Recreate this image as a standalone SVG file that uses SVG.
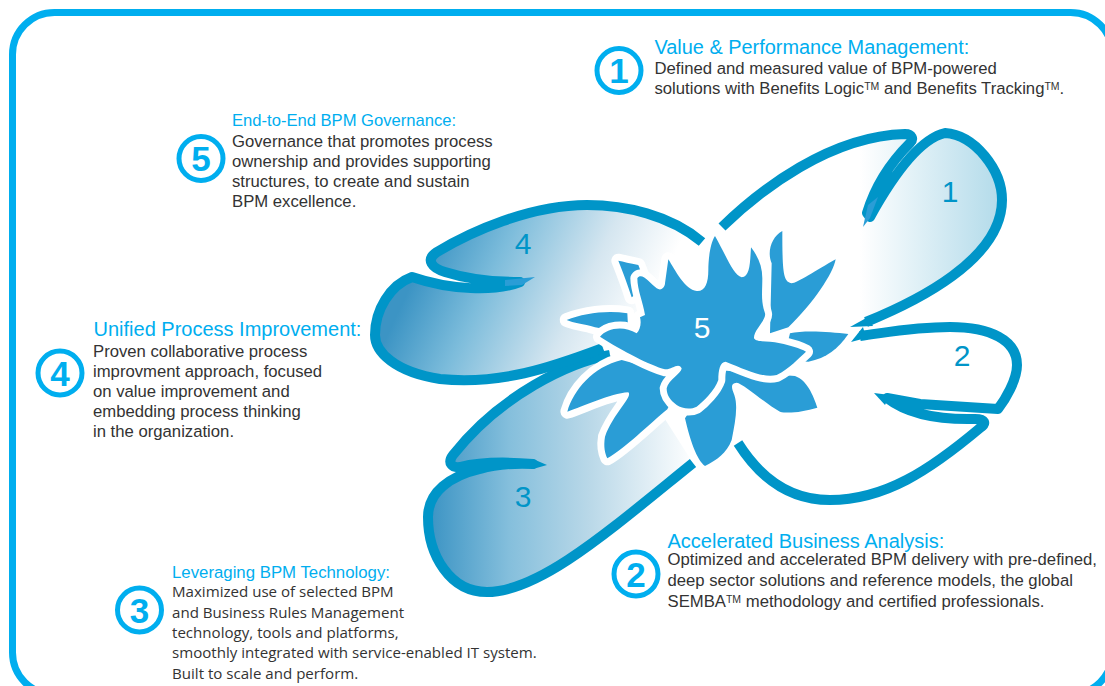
<svg xmlns="http://www.w3.org/2000/svg" width="1105" height="686" viewBox="0 0 1105 686">
<style>
.ln{fill:none;stroke:#0095c8;stroke-width:10;stroke-linejoin:round;stroke-linecap:butt}
.tip{fill:#0095c8}
.tip2{fill:#2a9dd6}
.pn{font:30px "Liberation Sans",Arial,sans-serif;fill:#0095c8;text-anchor:middle}
.h{font-family:"Liberation Sans",Arial,sans-serif;fill:#00aeef}
.b{font-family:"Liberation Sans",Arial,sans-serif;font-size:16.700px;fill:#333}
.o{font-family:"Open Sans",sans-serif;font-size:15.100px;fill:#333}
.c{fill:#fff;stroke:#00aeef;stroke-width:5}
.d{font:bold 35px "Liberation Sans",Arial,sans-serif;fill:#00aeef;text-anchor:middle}
.f{fill:#2a9dd6}
.w{fill:#2a9dd6;stroke:#fff;stroke-width:42;paint-order:stroke;stroke-linejoin:round}
.tm{font-size:10.500px}
</style>
<defs>
<linearGradient id="g1" gradientUnits="userSpaceOnUse" x1="860" y1="0" x2="1000" y2="0"><stop offset="0" stop-color="#fff"/><stop offset="1" stop-color="#b3dbea"/></linearGradient>
<linearGradient id="g3" gradientUnits="userSpaceOnUse" x1="430" y1="0" x2="695" y2="0"><stop offset="0" stop-color="#3c94c4"/><stop offset=".3" stop-color="#85bfdc"/><stop offset=".6" stop-color="#b9d8e8"/><stop offset="1" stop-color="#fff"/></linearGradient>
<linearGradient id="g4" gradientUnits="userSpaceOnUse" x1="385" y1="340" x2="590" y2="436"><stop offset="0" stop-color="#3c94c4"/><stop offset=".3" stop-color="#7cbcdb"/><stop offset=".7" stop-color="#d5e6f0"/><stop offset="1" stop-color="#fff"/></linearGradient>
</defs>
<rect id="frame" x="12.500" y="12.500" width="1100" height="682" rx="42" fill="#fff" stroke="#00aeef" stroke-width="7"/>
<g id="connectors"></g>
<g id="petal-3">
<path fill="url(#g3)" d="M610,355C570,362 500,395 453,455C447,463 452,468 460,467C480,462 510,462 533,464C510,463 490,466 480,469C450,476 428,492 428,517C428,555 450,592 487,592C540,592 610,530 693,463L640,380Z"/>
<path class="ln" d="M610,355C570,362 500,395 453,455C447,463 452,468 460,467C480,462 510,462 533,464C510,463 490,466 480,469C450,476 428,492 428,517C428,555 450,592 487,592C540,592 610,530 693,463"/>
<path class="tip" d="M533,459L547,465L533,469Z"/>
<text class="pn" x="523" y="507">3</text>
</g>
<g id="petal-4">
<path fill="url(#g4)" d="M702,242C670,215 625,205 587,205C530,205 470,232 437,252C425,260 432,268 445,272C470,280 495,282 520,282C495,292 450,290 412,277C390,285 375,310 375,335C375,352 395,372 440,379C500,385 550,368 603,348L660,300Z"/>
<path class="ln" d="M702,242C670,215 625,205 587,205C530,205 470,232 437,252C425,260 432,268 445,272C470,280 495,282 520,282C495,292 450,290 412,277C390,285 375,310 375,335C375,352 395,372 440,379C500,385 550,368 603,348"/>
<path class="tip2" d="M505,280L535,277L522,285L505,286Z"/>
<text class="pn" x="523" y="254">4</text>
</g>
<g id="petal-1">
<path fill="url(#g1)" d="M722,227C760,190 830,136 905,134C912,134 914,139 910,143C893,160 876,183 867,213L870,217C885,190 915,140 945,133C975,135 1002,170 1002,200C1002,260 905,310 852,328L790,280Z"/>
<path class="ln" d="M722,227C760,190 830,136 905,134C912,134 914,139 910,143C893,160 876,183 867,213L870,217C885,190 915,140 945,133C975,135 1002,170 1002,200C1002,260 915,302 866,322"/>
<path class="tip" d="M850,327L868,317L873,326Z"/>
<path class="tip2" d="M863,227L868,205L878,197L870,218Z"/>
<text class="pn" x="950" y="202">1</text>
</g>
<g id="petal-2">
<path class="ln" d="M860,336C890,332 915,327 950,327C990,327 1017,340 1017,365C1017,380 1005,400 998,409L920,404L887,398C905,412 935,420 975,419C985,419 987,423 980,428C930,470 885,500 830,500C790,500 760,478 738,443"/>
<path class="tip" d="M874,393L890,395L885,405Z"/>
<path class="tip" d="M851,342L863,327L866,338Z"/>
<text class="pn" x="962" y="366">2</text>
</g>
<g id="petal-5">
<g transform="translate(550,220) scale(.33333)">
<path class="f" d="M697,33C665,50 650,95 665,130L660,340L715,322C790,250 850,160 857,118C800,150 740,190 725,190C700,185 697,160 697,33Z"/>
<path class="f" d="M895,342C840,335 760,330 720,340L700,420L775,425C830,415 865,385 895,342Z"/>
<path class="f" d="M735,468C770,480 790,525 802,563C760,575 715,582 690,575C650,555 580,490 560,488C540,490 545,505 553,525C565,560 555,610 545,660C530,700 500,720 465,738C440,720 420,660 405,595L500,450Z"/>
<path class="w" d="M215,420C130,440 70,510 52,575C100,560 180,520 235,517C250,530 190,580 165,650C160,680 165,700 172,715C220,690 300,610 352,568L400,470Z"/>
<path class="w" d="M50,300C100,280 170,270 232,280L235,340L135,322C100,310 70,310 50,300Z"/>
<path class="w" d="M205,122C220,160 235,200 245,232L290,200L265,135C240,130 220,125 205,122Z"/>
<path class="w" d="M495,48C530,110 550,165 575,172C600,170 600,130 603,82C625,110 637,140 637,175C637,220 632,240 645,280C650,300 610,330 612,355C620,368 650,362 690,370C720,376 750,385 768,395C745,415 720,445 680,465C640,475 590,450 527,425C510,425 505,450 505,480C495,510 460,545 440,560C420,570 395,565 380,555C360,540 350,525 350,505C355,480 395,460 395,445C385,425 365,450 345,448C300,435 220,395 150,350C170,325 220,315 260,340C270,330 275,310 270,292L285,285C280,250 262,210 262,175C275,155 300,190 320,205C335,215 345,200 345,190L355,118C375,150 405,210 440,213C465,215 475,190 475,150C475,120 480,70 495,48Z"/>
</g>
<text x="702" y="338" text-anchor="middle" style="font:30px 'Liberation Sans',Arial,sans-serif;fill:#fff">5</text>
</g>
<g id="node-1">
<circle class="c" cx="619" cy="70.500" r="22"/><text class="d" x="619" y="83">1</text>
<text class="h" x="654.500" y="54" font-size="19.900">Value &amp; Performance Management:</text>
<text class="b" x="654.500" y="73.500">Defined and measured value of BPM-powered</text>
<text class="b" x="654.500" y="94">solutions with Benefits Logic<tspan class="tm" dy="-4">TM</tspan><tspan dy="4"> and Benefits Tracking</tspan><tspan class="tm" dy="-4">TM</tspan><tspan dy="4">.</tspan></text>
</g>
<g id="node-5">
<circle class="c" cx="201" cy="158.500" r="22"/><text class="d" x="201" y="171">5</text>
<text class="h" x="232" y="125.500" font-size="16.600">End-to-End BPM Governance:</text>
<text class="b" x="232" y="146.500">Governance that promotes process</text>
<text class="b" x="232" y="166.500">ownership and provides supporting</text>
<text class="b" x="232" y="186.500">structures, to create and sustain</text>
<text class="b" x="232" y="206.500">BPM excellence.</text>
</g>
<g id="node-4">
<circle class="c" cx="60" cy="373" r="22"/><text class="d" x="60" y="385.500">4</text>
<text class="h" x="93.500" y="336" font-size="20">Unified Process Improvement:</text>
<text class="b" x="93" y="356.500">Proven collaborative process</text>
<text class="b" x="93" y="376.500">improvment approach, focused</text>
<text class="b" x="93" y="396.500">on value improvement and</text>
<text class="b" x="93" y="416.500">embedding process thinking</text>
<text class="b" x="93" y="436.500">in the organization.</text>
</g>
<g id="node-2">
<circle class="c" cx="636" cy="574" r="22"/><text class="d" x="636" y="586.500">2</text>
<text class="h" x="667.500" y="547.500" font-size="20">Accelerated Business Analysis:</text>
<text class="b" x="667.500" y="565">Optimized and accelerated BPM delivery with pre-defined,</text>
<text class="b" x="667.500" y="586">deep sector solutions and reference models, the global</text>
<text class="b" x="667.500" y="607">SEMBA<tspan class="tm" dy="-4">TM</tspan><tspan dy="4"> methodology and certified professionals.</tspan></text>
</g>
<g id="node-3">
<circle class="c" cx="139.500" cy="610" r="22"/><text class="d" x="139.500" y="622.500">3</text>
<text class="h" x="172" y="578" font-size="16.800">Leveraging BPM Technology:</text>
<text class="o" x="172" y="597">Maximized use of selected BPM</text>
<text class="o" x="172" y="617.500">and Business Rules Management</text>
<text class="o" x="172" y="638">technology, tools and platforms,</text>
<text class="o" x="172" y="658">smoothly integrated with service-enabled IT system.</text>
<text class="o" x="172" y="679">Built to scale and perform.</text>
</g>
</svg>
